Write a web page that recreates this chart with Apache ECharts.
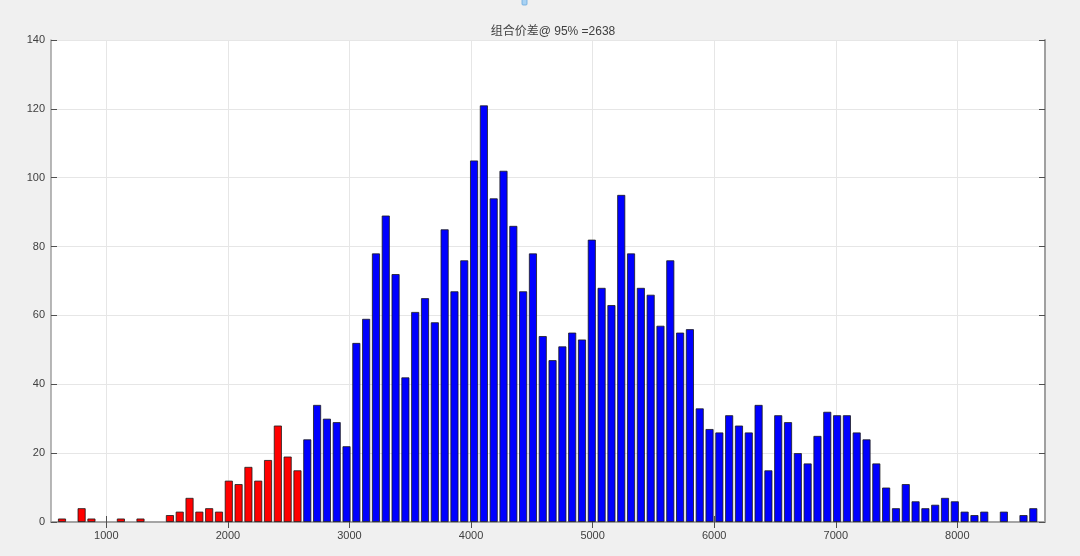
<!DOCTYPE html>
<html>
<head>
<meta charset="utf-8">
<script src="https://cdn.jsdelivr.net/npm/echarts@6/dist/echarts.min.js"></script>
<style>
html,body{margin:0;padding:0;background:#f0f0f0;}
#c{width:1080px;height:556px;}
</style>
</head>
<body>
<div id="c"></div>
<script>
// bin centers (x values)
const binCenters = [635.5,716.2,796.9,877.6,958.3,1039.0,1119.7,1200.4,1281.1,1361.8,
  1442.5,1523.2,1603.9,1684.6,1765.3,1846.0,1926.7,2007.4,2088.1,2168.8,
  2249.5,2330.2,2410.9,2491.6,2572.3,2653.0,2733.7,2814.4,2895.1,2975.8,
  3056.5,3137.2,3217.9,3298.6,3379.3,3460.0,3540.7,3621.4,3702.1,3782.8,
  3863.5,3944.2,4024.9,4105.6,4186.3,4267.0,4347.7,4428.4,4509.1,4589.8,
  4670.5,4751.2,4831.9,4912.6,4993.3,5074.0,5154.7,5235.4,5316.1,5396.8,
  5477.5,5558.2,5638.9,5719.6,5800.3,5881.0,5961.7,6042.4,6123.1,6203.8,
  6284.5,6365.2,6445.9,6526.6,6607.3,6688.0,6768.7,6849.4,6930.1,7010.8,
  7091.5,7172.2,7252.9,7333.6,7414.3,7495.0,7575.7,7656.4,7737.1,7817.8,
  7898.5,7979.2,8059.9,8140.6,8221.3,8302.0,8382.7,8463.4,8544.1,8624.8];
// counts per bin
const counts = [1,0,4,1,0,0,1,0,1,0,
  0,2,3,7,3,4,3,12,11,16,
  12,18,28,19,15,24,34,30,29,22,
  52,59,78,89,72,42,61,65,58,85,
  67,76,105,121,94,102,86,67,78,54,
  47,51,55,53,82,68,63,95,78,68,
  66,57,76,55,56,33,27,26,31,28,
  26,34,15,31,29,20,17,25,32,31,
  31,26,24,17,10,4,11,6,4,5,
  7,6,3,2,3,0,3,0,2,4];
const threshold = 2638;
const titleText = '组合价差@ 95% =' + threshold;
const xTicks = [1000,2000,3000,4000,5000,6000,7000,8000];
const yTicks = [0,20,40,60,80,100,120,140];

function item(x, v) {
  return v === 0 ? {value:[x, v], itemStyle:{borderWidth:0, opacity:0}} : {value:[x, v]};
}
const lowData = [], highData = [];
binCenters.forEach((x, i) => {
  if (x < threshold) { lowData.push(item(x, counts[i])); highData.push([x, '-']); }
  else { lowData.push([x, '-']); highData.push(item(x, counts[i])); }
});

const axisGray = '#a0a0a0';
const labelStyle = {color:'#404040', fontSize:11, fontFamily:'Liberation Sans, Arial, sans-serif'};
const chart = echarts.init(document.getElementById('c'), null, {renderer:'canvas'});
chart.setOption({
  backgroundColor:'#f0f0f0',
  animation:false,
  title:{text:titleText, left:548, textAlign:'center', top:21,
    textStyle:{fontSize:12, fontWeight:'normal', color:'#404040',
      fontFamily:'Liberation Sans, "Noto Sans CJK SC", sans-serif'}},
  graphic:[{type:'rect', shape:{x:522, y:-1, width:5, height:6, r:1},
    style:{fill:'#a9d2f3', stroke:'#6aa8dc', lineWidth:0.8}}],
  grid:{left:51, right:35, top:40, bottom:34, show:true, backgroundColor:'#ffffff', borderWidth:0},
  xAxis:[{type:'value', min:545, max:8721, interval:1000,
      axisLine:{show:true, onZero:false, lineStyle:{color:axisGray, width:1.5}},
      axisTick:{show:true, inside:true, length:6, lineStyle:{color:'#505050'},
        customValues:xTicks},
      axisLabel:{...labelStyle, margin:8, customValues:xTicks, formatter:v => String(v)},
      splitLine:{show:true, lineStyle:{color:'#e6e6e6', width:1}}},
    {type:'value', position:'top', min:545, max:8721,
      axisLine:{show:true, lineStyle:{color:axisGray, width:1.5}},
      axisTick:{show:true, inside:true, length:6, lineStyle:{color:'#505050'}, customValues:xTicks},
      axisLabel:{show:false}, splitLine:{show:false}}],
  yAxis:[{type:'value', min:0, max:140, interval:20,
      axisLine:{show:true, lineStyle:{color:axisGray, width:1.5}},
      axisTick:{show:true, inside:true, length:6, lineStyle:{color:'#505050'}},
      axisLabel:{...labelStyle, margin:6, formatter:v => yTicks.includes(v) ? String(v) : ''},
      splitLine:{show:true, lineStyle:{color:'#e6e6e6', width:1}}},
    {type:'value', position:'right', min:0, max:140, interval:20,
      axisLine:{show:true, lineStyle:{color:axisGray, width:2}},
      axisTick:{show:true, inside:true, length:6, lineStyle:{color:'#505050'}},
      axisLabel:{show:false}, splitLine:{show:false}}],
  series:[
    {type:'bar', name:'low', data:lowData, barWidth:8, barGap:'-100%',
      itemStyle:{color:'#ff0000', borderColor:'#1a1a1a', borderWidth:0.8}},
    {type:'bar', name:'high', data:highData, barWidth:8, barGap:'-100%',
      itemStyle:{color:'#0000ff', borderColor:'#1a1a1a', borderWidth:0.8}}
  ]
});
</script>
</body>
</html>
